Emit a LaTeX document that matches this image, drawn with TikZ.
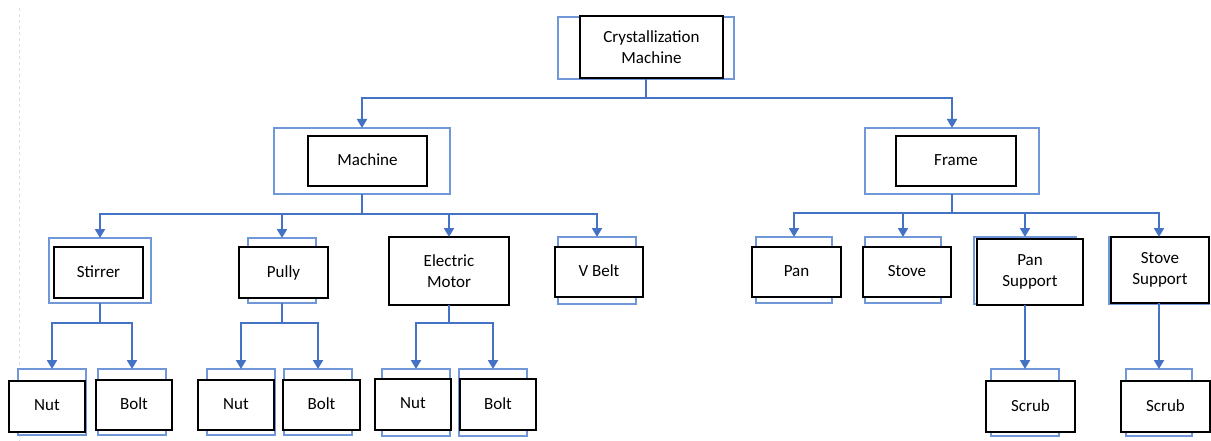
\documentclass[tikz,border=0pt]{standalone}
\usepackage{fontspec}
\setmainfont{Carlito}
\usetikzlibrary{arrows.meta}
\definecolor{connblue}{HTML}{4472C4}
\definecolor{boxblue}{HTML}{7097D8}
\tikzset{
  outerb/.style={draw=boxblue, line width=1.5pt, fill=white, inner sep=0pt, outer sep=0pt},
  innerb/.style={draw=black, line width=2pt, fill=white, inner sep=0pt, outer sep=0pt,
    align=center, font=\fontsize{17}{21}\selectfont},
  busline/.style={draw=connblue, line width=2pt},
  conn/.style={draw=connblue, line width=2pt, -{Triangle[width=10pt,length=9pt]}},
}
\newcommand\outerbox[5]{\node[outerb,minimum width={#4-#2},minimum height={#5-#3}] (#1) at ({(#2+#4)/2},{(#3+#5)/2}) {};}
\newcommand\innerbox[6]{\node[innerb,minimum width={#4-#2},minimum height={#5-#3}] (#1) at ({(#2+#4)/2},{(#3+#5)/2}) {#6};}
\newcommand\up[1]{\raisebox{2.5pt}{#1}}
\begin{document}
\begin{tikzpicture}[x=1pt,y=-1pt]
\useasboundingbox[fill=white] (0,0) rectangle (1211,441);
\draw[gray!25, dashed, line width=0.8pt] (19,8) -- (19,441);
% outer (blue) boxes
\outerbox{ocm}{558}{17}{734}{79}
\outerbox{omachine}{274}{128}{450}{194}
\outerbox{oframe}{865}{128}{1039}{194}
\outerbox{ostirrer}{49}{238}{151}{303}
\outerbox{opully}{248}{238}{316}{303}
\outerbox{ovbelt}{558}{237}{636}{304}
\outerbox{opan}{756}{237}{832}{303}
\outerbox{ostove}{865}{237}{941}{303}
\outerbox{opansup}{974}{237}{1076}{304}
\outerbox{ostovesup}{1109}{237}{1209}{304}
\outerbox{onut1}{18}{369}{86}{435}
\outerbox{obolt1}{98}{369}{166}{435}
\outerbox{onut2}{207}{369}{275}{435}
\outerbox{obolt2}{284}{369}{352}{435}
\outerbox{onut3}{382}{369}{450}{436}
\outerbox{obolt3}{459}{369}{527}{436}
\outerbox{oscrub1}{991}{369}{1059}{436}
\outerbox{oscrub2}{1126}{369}{1192}{436}
% inner (black) boxes
\innerbox{cm}{580}{16}{723}{78}{Crystallization\\Machine}
\innerbox{machine}{308}{136}{427}{186}{\up{Machine}}
\innerbox{frame}{896}{136}{1016}{186}{\up{Frame}}
\innerbox{stirrer}{54}{247}{143}{298}{\up{Stirrer}}
\innerbox{pully}{239}{247}{328}{298}{\up{Pully}}
\innerbox{motor}{389}{237}{509}{305}{Electric\\Motor}
\innerbox{vbelt}{555}{247}{643}{297}{\up{V Belt}}
\innerbox{pan}{752}{247}{841}{297}{\up{Pan}}
\innerbox{stove}{863}{247}{951}{297}{\up{Stove}}
\innerbox{pansup}{977}{239}{1083}{305}{Pan\\Support}
\innerbox{stovesup}{1111}{237}{1209}{303}{Stove\\Support}
\innerbox{nut1}{9}{381}{85}{432}{\up{Nut}}
\innerbox{bolt1}{96}{380}{172}{430}{\up{Bolt}}
\innerbox{nut2}{198}{380}{274}{430}{\up{Nut}}
\innerbox{bolt2}{283}{380}{360}{430}{\up{Bolt}}
\innerbox{nut3}{375}{379}{451}{430}{\up{Nut}}
\innerbox{bolt3}{460}{379}{536}{430}{\up{Bolt}}
\innerbox{scrub1}{986}{381}{1075}{432}{\up{Scrub}}
\innerbox{scrub2}{1121}{381}{1210}{432}{\up{Scrub}}
% junctions
\path (ocm.south) ++(0,19) coordinate (j0);
\path (omachine.south) ++(0,20) coordinate (jm);
\path (oframe.south) ++(0,19) coordinate (jf);
\path (ostirrer.south) ++(0,20) coordinate (js);
\path (opully.south) ++(0,20) coordinate (jp);
\path (motor.south) ++(0,18) coordinate (je);
% connectors
\draw[busline] (ocm.south) -- (j0);
\draw[conn] (j0) -| (omachine.north);
\draw[conn] (j0) -| (oframe.north);
\draw[busline] (omachine.south) -- (jm);
\draw[conn] (jm) -| (ostirrer.north);
\draw[conn] (jm) -| (opully.north);
\draw[conn] (jm) -| (motor.north);
\draw[conn] (jm) -| (ovbelt.north);
\draw[busline] (oframe.south) -- (jf);
\draw[conn] (jf) -| (opan.north);
\draw[conn] (jf) -| (ostove.north);
\draw[conn] (jf) -| (opansup.north);
\draw[conn] (jf) -| (ostovesup.north);
\draw[busline] (ostirrer.south) -- (js);
\draw[conn] (js) -| (onut1.north);
\draw[conn] (js) -| (obolt1.north);
\draw[busline] (opully.south) -- (jp);
\draw[conn] (jp) -| (onut2.north);
\draw[conn] (jp) -| (obolt2.north);
\draw[busline] (motor.south) -- (je);
\draw[conn] (je) -| (onut3.north);
\draw[conn] (je) -| (obolt3.north);
\draw[conn] (oscrub1.north |- pansup.south) -- (oscrub1.north);
\draw[conn] (oscrub2.north |- stovesup.south) -- (oscrub2.north);
\end{tikzpicture}
\end{document}
